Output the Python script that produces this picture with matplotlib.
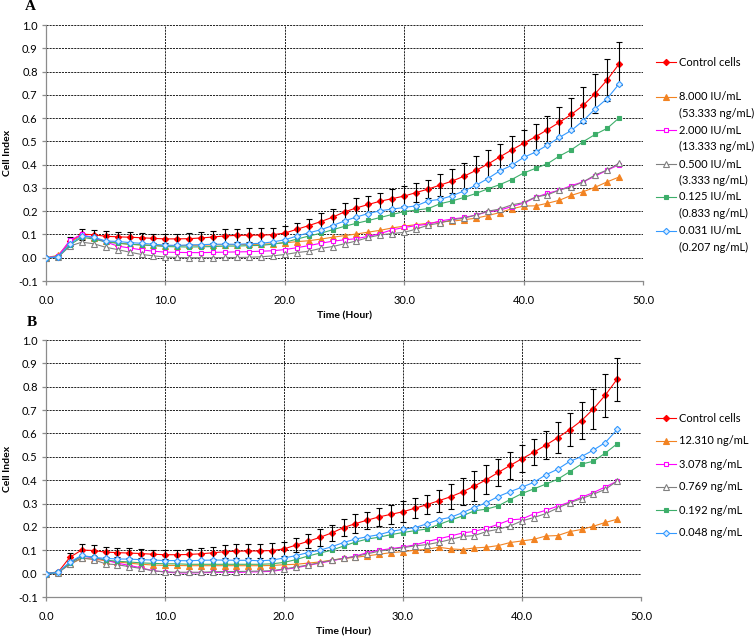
import matplotlib
matplotlib.use('Agg')
import matplotlib.pyplot as plt
from matplotlib.lines import Line2D
from matplotlib.ticker import FormatStrFormatter

plt.rcParams['font.family'] = ['Lato', 'DejaVu Sans']
plt.rcParams['axes.unicode_minus'] = False

hours = list(range(49))

# control cells (same wells shown in both panels)
control = [0.000, 0.005, 0.070, 0.101, 0.099, 0.092, 0.090, 0.088, 0.086, 0.083,
           0.081, 0.081, 0.082, 0.085, 0.089, 0.094, 0.096, 0.097, 0.097, 0.099,
           0.106, 0.122, 0.138, 0.155, 0.174, 0.197, 0.214, 0.229, 0.243, 0.254,
           0.265, 0.280, 0.295, 0.312, 0.329, 0.350, 0.375, 0.402, 0.433, 0.463,
           0.492, 0.520, 0.550, 0.582, 0.616, 0.655, 0.705, 0.764, 0.833]
control_err = [0.000, 0.005, 0.018, 0.024, 0.022, 0.021, 0.020, 0.021, 0.021, 0.019,
               0.019, 0.021, 0.023, 0.025, 0.027, 0.029, 0.029, 0.029, 0.030, 0.030,
               0.031, 0.029, 0.030, 0.037, 0.034, 0.037, 0.042, 0.036, 0.037, 0.041,
               0.044, 0.042, 0.040, 0.047, 0.053, 0.058, 0.063, 0.061, 0.057, 0.059,
               0.058, 0.056, 0.059, 0.067, 0.070, 0.078, 0.085, 0.092, 0.092]

# panel A
a_8000 = [0.000, 0.010, 0.068, 0.095, 0.085, 0.070, 0.063, 0.058, 0.055, 0.053,
          0.052, 0.052, 0.053, 0.054, 0.055, 0.056, 0.056, 0.057, 0.058, 0.060,
          0.064, 0.069, 0.073, 0.080, 0.088, 0.095, 0.102, 0.110, 0.118, 0.128,
          0.136, 0.142, 0.148, 0.154, 0.157, 0.163, 0.170, 0.181, 0.194, 0.210,
          0.222, 0.223, 0.234, 0.247, 0.268, 0.284, 0.303, 0.326, 0.347]
a_2000 = [0.000, 0.006, 0.075, 0.100, 0.085, 0.068, 0.050, 0.042, 0.034, 0.028,
          0.024, 0.023, 0.022, 0.022, 0.023, 0.024, 0.025, 0.026, 0.028, 0.030,
          0.035, 0.043, 0.052, 0.062, 0.071, 0.077, 0.082, 0.092, 0.104, 0.120,
          0.130, 0.138, 0.144, 0.158, 0.166, 0.173, 0.183, 0.198, 0.204, 0.220,
          0.234, 0.259, 0.277, 0.290, 0.310, 0.326, 0.351, 0.376, 0.400]
a_0500 = [0.000, 0.002, 0.050, 0.067, 0.060, 0.045, 0.035, 0.024, 0.014, 0.008,
          0.003, 0.001, 0.000, 0.000, 0.000, 0.001, 0.001, 0.002, 0.004, 0.008,
          0.014, 0.022, 0.028, 0.040, 0.048, 0.060, 0.072, 0.087, 0.098, 0.104,
          0.109, 0.123, 0.140, 0.149, 0.163, 0.170, 0.183, 0.200, 0.209, 0.227,
          0.237, 0.261, 0.270, 0.291, 0.304, 0.326, 0.356, 0.377, 0.406]
a_0125 = [0.000, 0.003, 0.055, 0.088, 0.080, 0.068, 0.062, 0.058, 0.055, 0.052,
          0.048, 0.047, 0.046, 0.047, 0.048, 0.050, 0.050, 0.052, 0.053, 0.058,
          0.066, 0.080, 0.093, 0.105, 0.120, 0.135, 0.148, 0.160, 0.173, 0.186,
          0.198, 0.205, 0.211, 0.232, 0.244, 0.259, 0.276, 0.296, 0.314, 0.336,
          0.364, 0.384, 0.404, 0.437, 0.464, 0.499, 0.530, 0.556, 0.601]
a_0031 = [0.000, 0.003, 0.060, 0.093, 0.088, 0.072, 0.070, 0.065, 0.062, 0.058,
          0.054, 0.053, 0.055, 0.056, 0.058, 0.058, 0.058, 0.060, 0.062, 0.068,
          0.077, 0.093, 0.107, 0.120, 0.138, 0.158, 0.175, 0.190, 0.202, 0.209,
          0.216, 0.223, 0.244, 0.251, 0.266, 0.287, 0.311, 0.340, 0.373, 0.397,
          0.431, 0.454, 0.484, 0.517, 0.547, 0.589, 0.640, 0.684, 0.747]
a_labels = ['Control cells', '8.000 IU/mL\n(53.333 ng/mL)', '2.000 IU/mL\n(13.333 ng/mL)',
            '0.500 IU/mL\n(3.333 ng/mL)', '0.125 IU/mL\n(0.833 ng/mL)', '0.031 IU/mL\n(0.207 ng/mL)']

# panel B
b_12310 = [0.000, 0.008, 0.040, 0.065, 0.063, 0.055, 0.050, 0.045, 0.040, 0.037,
           0.035, 0.035, 0.034, 0.034, 0.034, 0.034, 0.034, 0.034, 0.034, 0.035,
           0.038, 0.040, 0.045, 0.050, 0.058, 0.065, 0.070, 0.076, 0.083, 0.090,
           0.094, 0.100, 0.104, 0.113, 0.106, 0.103, 0.110, 0.113, 0.120, 0.133,
           0.140, 0.147, 0.161, 0.163, 0.180, 0.189, 0.203, 0.219, 0.233]
b_3078 = [0.000, 0.005, 0.045, 0.075, 0.068, 0.058, 0.045, 0.035, 0.025, 0.012,
          0.007, 0.003, 0.003, 0.004, 0.005, 0.006, 0.005, 0.007, 0.008, 0.010,
          0.018, 0.025, 0.035, 0.045, 0.055, 0.065, 0.075, 0.090, 0.100, 0.107,
          0.114, 0.123, 0.137, 0.149, 0.161, 0.174, 0.181, 0.194, 0.211, 0.230,
          0.234, 0.256, 0.271, 0.289, 0.306, 0.327, 0.347, 0.371, 0.396]
b_0769 = [0.000, 0.003, 0.040, 0.068, 0.060, 0.042, 0.038, 0.030, 0.022, 0.012,
          0.008, 0.006, 0.006, 0.006, 0.008, 0.009, 0.009, 0.010, 0.011, 0.013,
          0.020, 0.028, 0.037, 0.047, 0.057, 0.065, 0.073, 0.085, 0.096, 0.104,
          0.111, 0.119, 0.124, 0.134, 0.146, 0.159, 0.163, 0.180, 0.190, 0.204,
          0.226, 0.240, 0.257, 0.281, 0.303, 0.321, 0.340, 0.361, 0.396]
b_0192 = [0.000, 0.005, 0.045, 0.075, 0.070, 0.058, 0.053, 0.050, 0.046, 0.044,
          0.042, 0.042, 0.040, 0.040, 0.040, 0.040, 0.040, 0.040, 0.040, 0.042,
          0.048, 0.060, 0.075, 0.088, 0.100, 0.118, 0.135, 0.148, 0.156, 0.167,
          0.176, 0.184, 0.191, 0.210, 0.229, 0.247, 0.269, 0.276, 0.290, 0.317,
          0.343, 0.363, 0.383, 0.404, 0.436, 0.469, 0.481, 0.516, 0.556]
b_0048 = [0.000, 0.005, 0.050, 0.078, 0.070, 0.065, 0.063, 0.062, 0.060, 0.058,
          0.056, 0.056, 0.055, 0.057, 0.058, 0.058, 0.057, 0.057, 0.055, 0.058,
          0.067, 0.077, 0.090, 0.100, 0.115, 0.133, 0.148, 0.158, 0.167, 0.181,
          0.190, 0.197, 0.213, 0.231, 0.241, 0.261, 0.283, 0.304, 0.330, 0.351,
          0.370, 0.391, 0.423, 0.447, 0.480, 0.501, 0.529, 0.561, 0.617]
b_labels = ['Control cells', '12.310 ng/mL', '3.078 ng/mL', '0.769 ng/mL', '0.192 ng/mL', '0.048 ng/mL']

x_ticks = [0, 10, 20, 30, 40, 50]
y_ticks = [-0.1, 0.0, 0.1, 0.2, 0.3, 0.4, 0.5, 0.6, 0.7, 0.8, 0.9, 1.0]

# colour, marker, marker size, face colour
STYLES = [('#FF0000', 'D', 3.2, '#FF0000'),
          ('#F28322', '^', 4.0, '#F28322'),
          ('#FF00FF', 's', 3.5, 'white'),
          ('#808080', '^', 4.0, 'white'),
          ('#3DAE6A', 's', 3.5, '#3DAE6A'),
          ('#3399FF', 'D', 3.2, '#DDEEFF')]

W, H = 755, 637
fig = plt.figure(figsize=(W / 100, H / 100), dpi=100)


def fx(px):
	return px / W


def fy(py):
	return 1 - py / H


def draw_panel(rect, series, letter, letter_pos):
	ax = fig.add_axes(rect)
	for i, y in enumerate(series):
		c, m, ms, fc = STYLES[i]
		ax.plot(hours, y, color=c, lw=0.8, marker=m, ms=ms, mfc=fc, mec=c, mew=0.8, zorder=3 + i * 0.1)
		if i == 0:
			ax.errorbar(hours, y, yerr=control_err, fmt='none', ecolor='black', elinewidth=0.8,
						capsize=2.2, capthick=0.8, zorder=3.05)
	ax.set_xlim(0, 50)
	ax.set_ylim(-0.1, 1.0)
	ax.set_xticks(x_ticks)
	ax.set_yticks(y_ticks)
	ax.xaxis.set_major_formatter(FormatStrFormatter('%.1f'))
	ax.yaxis.set_major_formatter(FormatStrFormatter('%.1f'))
	ax.grid(True, color='black', lw=0.6, linestyle=(0, (2.5, 1.2)))
	ax.set_axisbelow(True)
	for s in ['top', 'right']:
		ax.spines[s].set_visible(False)
	for s in ['left', 'bottom']:
		ax.spines[s].set_color('#8C8C8C')
		ax.spines[s].set_linewidth(0.9)
	ax.tick_params(axis='y', length=3, width=0.9, color='#8C8C8C', pad=3, labelsize=8)
	ax.tick_params(axis='x', length=3, width=0.9, color='#8C8C8C', pad=7, labelsize=8)
	ax.set_xlabel('Time (Hour)', fontsize=7.5, fontweight='bold', labelpad=4)
	ax.set_ylabel('Cell Index', fontsize=7.5, fontweight='bold', labelpad=4)
	fig.text(fx(letter_pos[0]), fy(letter_pos[1]), letter, family='Liberation Serif',
			 fontweight='bold', fontsize=11, ha='center', va='center')
	return ax


def draw_legend(labels, ys):
	for i, label in enumerate(labels):
		c, m, ms, fc = STYLES[i]
		y = fy(ys[i])
		fig.add_artist(Line2D([fx(656), fx(666), fx(676)], [y, y, y], transform=fig.transFigure,
							  color=c, lw=0.8, marker=m, ms=ms, mfc=fc, mec=c, mew=0.8, markevery=[1]))
		for j, line in enumerate(label.split('\n')):
			fig.text(fx(679), fy(ys[i] + j * 16.5), line, fontsize=8, ha='left', va='center')


ax_a = draw_panel([fx(46), fy(281), fx(643) - fx(46), fy(25) - fy(281)],
				  [control, a_8000, a_2000, a_0500, a_0125, a_0031], 'A', (30, 7))
draw_legend(a_labels, [62, 97, 130, 164, 197, 231])

ax_b = draw_panel([fx(46), fy(597), fx(641) - fx(46), fy(340) - fy(597)],
				  [control, b_12310, b_3078, b_0769, b_0192, b_0048], 'B', (32, 322))
draw_legend(b_labels, [418, 441, 464, 487, 510, 533])

fig.savefig('out.png', dpi=100)
